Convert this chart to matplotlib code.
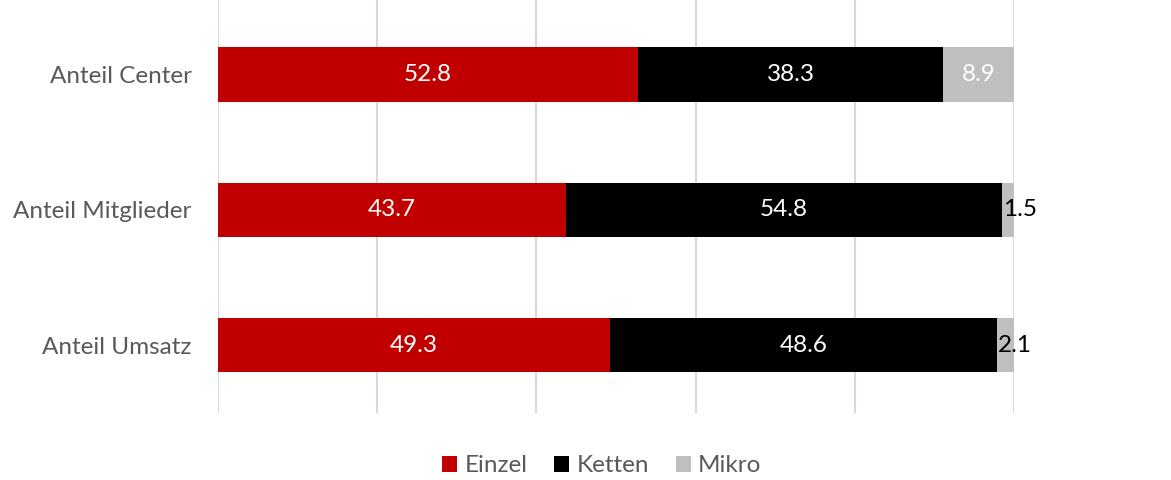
import matplotlib.pyplot as plt
import numpy as np

# categories and shares (percent)
categories = ['Anteil Center', 'Anteil Mitglieder', 'Anteil Umsatz']
series_names = ['Einzel', 'Ketten', 'Mikro']
einzel = [52.8, 43.7, 49.3]
ketten = [38.3, 54.8, 48.6]
mikro = [8.9, 1.5, 2.1]

colors = ['#C00000', '#000000', '#BFBFBF']

plt.rcParams['font.family'] = ['Lato', 'DejaVu Sans']
fs = 17.5

fig = plt.figure(figsize=(11.71, 4.8), dpi=100)
ax = fig.add_axes([218 / 1171, 67 / 480, (1014 - 218) / 1171, 413 / 480])

pos = np.arange(len(categories))
left = np.zeros(len(categories))
for name, vals, col in zip(series_names, [einzel, ketten, mikro], colors):
    vals = np.array(vals)
    ax.barh(pos, vals, left=left, height=0.4, color=col, label=name, zorder=3)
    for i, v in enumerate(vals):
        if v >= 5:
            ax.text(left[i] + v / 2, pos[i], '%.1f' % v, ha='center', va='center',
                    color='white', fontsize=fs, zorder=4)
        else:
            ax.text(left[i] + 0.1, pos[i], '%.1f' % v, ha='left', va='center',
                    color='black', fontsize=fs, zorder=4)
    left += vals

ax.set_xlim(0, 100)
ax.set_ylim(2.5, -0.55)
ax.set_xticks(np.arange(0, 101, 20))
ax.set_xticklabels([])
ax.tick_params(axis='x', length=0)
ax.tick_params(axis='y', length=0, pad=19, labelsize=fs, labelcolor='#595959')
ax.set_yticks(pos)
ax.set_yticklabels(categories)
ax.grid(axis='x', color='#D9D9D9', linewidth=1.5, zorder=0)
for s in ax.spines.values():
    s.set_visible(False)

fig.legend(loc='center', bbox_to_anchor=(0.514, 466 / 480 * 0 + 14 / 480), ncol=3, frameon=False,
           handlelength=0.62, handleheight=0.62, handletextpad=0.3, columnspacing=1.1,
           prop={'size': fs}, labelcolor='#595959')

fig.savefig('out.png', dpi=100)
